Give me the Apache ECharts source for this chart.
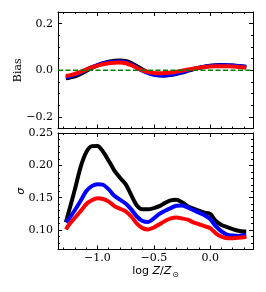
<!DOCTYPE html>
<html><head><meta charset="utf-8">
<script src="https://cdn.jsdelivr.net/npm/echarts@6/dist/echarts.min.js"></script>
<style>html,body{margin:0;padding:0;background:#fff}#c{width:266px;height:292px}</style>
</head><body><div id="c"></div>
<script>
// ---- data ----
const logZ = [-1.28,-1.25,-1.2,-1.15,-1.1,-1.05,-1.0,-0.95,-0.9,-0.85,-0.8,-0.75,-0.7,-0.65,-0.6,-0.55,-0.5,-0.45,-0.4,-0.35,-0.3,-0.25,-0.2,-0.15,-0.1,-0.05,0.0,0.05,0.1,0.15,0.2,0.25,0.3,0.32];
const biasBlack = [-0.035,-0.032,-0.026,-0.016,-0.003,0.01,0.021,0.03,0.037,0.041,0.042,0.04,0.031,0.017,0.003,-0.009,-0.017,-0.021,-0.022,-0.02,-0.016,-0.01,-0.003,0.004,0.01,0.015,0.019,0.021,0.022,0.021,0.02,0.018,0.016,0.015];
const biasBlue  = [-0.03,-0.027,-0.02,-0.01,0.002,0.013,0.022,0.029,0.034,0.037,0.038,0.035,0.026,0.012,-0.002,-0.012,-0.019,-0.022,-0.022,-0.019,-0.014,-0.008,-0.001,0.006,0.011,0.015,0.018,0.02,0.021,0.021,0.02,0.018,0.015,0.014];
const biasRed   = [-0.025,-0.022,-0.016,-0.007,0.003,0.012,0.02,0.026,0.03,0.032,0.033,0.03,0.022,0.01,-0.001,-0.008,-0.012,-0.013,-0.012,-0.01,-0.006,-0.002,0.003,0.007,0.011,0.014,0.016,0.017,0.017,0.017,0.016,0.014,0.012,0.011];
const sigmaBlack = [0.112,0.131,0.163,0.197,0.220,0.2297,0.230,0.221,0.207,0.192,0.181,0.171,0.154,0.138,0.132,0.132,0.134,0.137,0.142,0.146,0.147,0.143,0.137,0.133,0.130,0.127,0.125,0.114,0.108,0.1045,0.1015,0.099,0.098,0.098];
const sigmaBlue  = [0.112,0.118,0.131,0.145,0.160,0.168,0.171,0.170,0.163,0.153,0.147,0.141,0.132,0.121,0.114,0.1125,0.118,0.125,0.130,0.134,0.1375,0.138,0.135,0.131,0.127,0.123,0.117,0.106,0.098,0.093,0.0915,0.091,0.0925,0.093];
const sigmaRed   = [0.101,0.109,0.119,0.129,0.140,0.146,0.149,0.148,0.144,0.137,0.133,0.129,0.121,0.110,0.103,0.101,0.104,0.109,0.114,0.118,0.1195,0.118,0.116,0.112,0.109,0.106,0.103,0.095,0.090,0.0875,0.0875,0.088,0.089,0.090];
const zeroLevel = 0;
const xMajorTicks = [-1.0,-0.5,0.0];
const xMinorTicks = [-1.3,-1.2,-1.1,-0.9,-0.8,-0.7,-0.6,-0.4,-0.3,-0.2,-0.1,0.1,0.2,0.3];
const biasMajorTicks = [-0.2,0.0,0.2];
const biasMinorTicks = [-0.15,-0.1,-0.05,0.05,0.1,0.15];
const sigmaMajorTicks = [0.10,0.15,0.20,0.25];
const sigmaMinorTicks = [0.07,0.08,0.09,0.11,0.12,0.13,0.14,0.16,0.17,0.18,0.19,0.21,0.22,0.23,0.24];

const X_MIN = -1.35, X_MAX = 0.38;
const BIAS_MIN = -0.25, BIAS_MAX = 0.25;
const SIG_MIN = 0.07, SIG_MAX = 0.25;

const fmt = d => v => v.toFixed(d).replace('-', '\u2212');
const serif = 'DejaVu Serif';

const grids = [
  {left:58, width:195, top:12, height:116.5},
  {left:58, width:195, top:12, height:116.5},
  {left:58, width:195, top:133, height:116.5},
  {left:58, width:195, top:133, height:116.5}
];

function mkAxis(kind, g, position, min, max, ticks, len, major, label, name) {
  const ax = {
    type:'value', gridIndex:g, position:position, min:min, max:max,
    splitLine:{show:false},
    axisLine:{show:major, onZero:false, lineStyle:{color:'#000', width:1}},
    axisTick:{show:true, inside:true, length:len, customValues:ticks, lineStyle:{color:'#000', width:1}},
    axisLabel: label ? {show:true, customValues:label.values, formatter:label.fmt, fontFamily:serif, fontSize:11, color:'#000', margin:label.margin}
                     : {show:false}
  };
  if (name) Object.assign(ax, {nameMoveOverlap:false}, name);
  return ax;
}

const xAxis = [
  mkAxis('x',0,'bottom',X_MIN,X_MAX,xMajorTicks,4,true,null),
  mkAxis('x',0,'top',X_MIN,X_MAX,xMajorTicks,4,true,null),
  mkAxis('x',1,'bottom',X_MIN,X_MAX,xMinorTicks,2,false,null),
  mkAxis('x',1,'top',X_MIN,X_MAX,xMinorTicks,2,false,null),
  mkAxis('x',2,'bottom',X_MIN,X_MAX,xMajorTicks,4,true,{values:xMajorTicks, fmt:fmt(1), margin:3},
    {name:'{r|log }{i|Z}{r|/}{i|Z}{s|\u2299}', nameLocation:'middle', nameGap:15,
     nameTextStyle:{fontFamily:'DejaVu Sans', fontSize:11, color:'#000',
       rich:{r:{fontFamily:'DejaVu Sans',fontSize:11,color:'#000',lineHeight:14},
             i:{fontFamily:'DejaVu Sans',fontStyle:'italic',fontSize:11,color:'#000',lineHeight:14},
             s:{fontFamily:'DejaVu Sans',fontSize:8,color:'#000',padding:[6,0,0,1],verticalAlign:'top'}}}}),
  mkAxis('x',2,'top',X_MIN,X_MAX,xMajorTicks,4,true,null),
  mkAxis('x',3,'bottom',X_MIN,X_MAX,xMinorTicks,2,false,null),
  mkAxis('x',3,'top',X_MIN,X_MAX,xMinorTicks,2,false,null)
];
const yAxis = [
  mkAxis('y',0,'left',BIAS_MIN,BIAS_MAX,biasMajorTicks,4,true,{values:biasMajorTicks, fmt:fmt(1), margin:5},
    {name:'Bias', nameLocation:'middle', nameGap:34, nameTextStyle:{fontFamily:serif, fontSize:11, color:'#000'}}),
  mkAxis('y',0,'right',BIAS_MIN,BIAS_MAX,biasMajorTicks,4,true,null),
  mkAxis('y',1,'left',BIAS_MIN,BIAS_MAX,biasMinorTicks,2,false,null),
  mkAxis('y',1,'right',BIAS_MIN,BIAS_MAX,biasMinorTicks,2,false,null),
  mkAxis('y',2,'left',SIG_MIN,SIG_MAX,sigmaMajorTicks,4,true,{values:sigmaMajorTicks, fmt:fmt(2), margin:5},
    {name:'\u03c3', nameLocation:'middle', nameGap:31, nameTextStyle:{fontFamily:'DejaVu Sans', fontStyle:'italic', fontSize:11, color:'#000'}}),
  mkAxis('y',2,'right',SIG_MIN,SIG_MAX,sigmaMajorTicks,4,true,null),
  mkAxis('y',3,'left',SIG_MIN,SIG_MAX,sigmaMinorTicks,2,false,null),
  mkAxis('y',3,'right',SIG_MIN,SIG_MAX,sigmaMinorTicks,2,false,null)
];

function line(vals, color, xi, yi) {
  return {type:'line', xAxisIndex:xi, yAxisIndex:yi, data:logZ.map((x,i)=>[x, vals[i]]),
    showSymbol:false, symbol:'none', smooth:0.3, lineStyle:{color:color, width:4, cap:'butt', join:'round'},
    silent:true, animation:false};
}

const series = [
  line(biasBlack,'#000000',0,0),
  line(biasBlue,'#0000ff',0,0),
  line(biasRed,'#ff0000',0,0),
  {type:'line', xAxisIndex:0, yAxisIndex:0, data:[[X_MIN,zeroLevel],[X_MAX,zeroLevel]], showSymbol:false, symbol:'none',
   lineStyle:{color:'#008000', width:1.5, type:[5,2.5]}, silent:true, animation:false, z:5},
  line(sigmaBlack,'#000000',4,4),
  line(sigmaBlue,'#0000ff',4,4),
  line(sigmaRed,'#ff0000',4,4)
];

const chart = echarts.init(document.getElementById('c'), null, {renderer:'canvas'});
chart.setOption({animation:false, backgroundColor:'#fff', grid:grids, xAxis:xAxis, yAxis:yAxis, series:series});
</script></body></html>
